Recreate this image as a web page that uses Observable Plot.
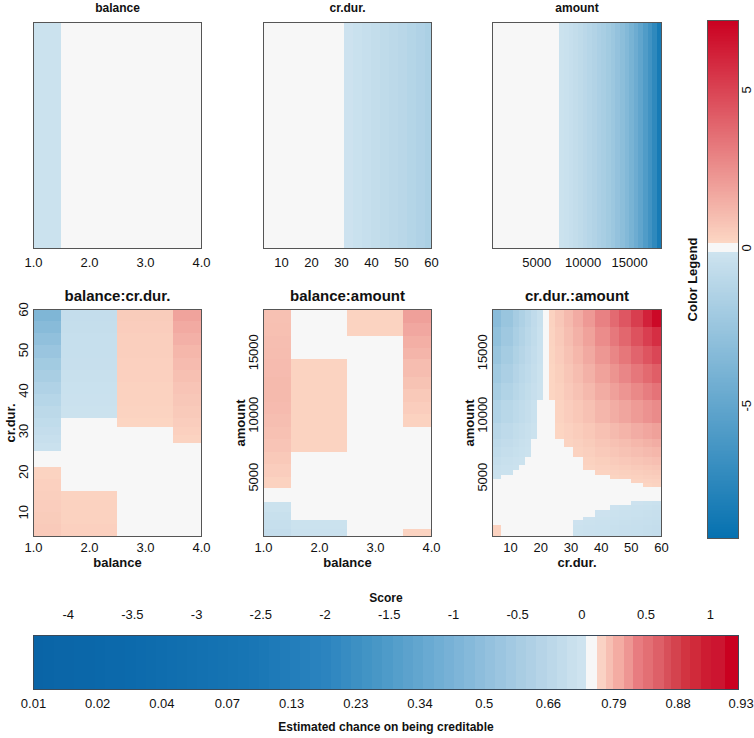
<!DOCTYPE html>
<html><head><meta charset="utf-8">
<script src="https://cdn.jsdelivr.net/npm/d3@7"></script>
<script src="https://cdn.jsdelivr.net/npm/@observablehq/plot@0.6"></script>
<style>
html,body{margin:0;padding:0;background:#fff;}
#chart{position:relative;width:754px;height:738px;overflow:hidden;font-family:"Liberation Sans",Arial,sans-serif;}
#chart > div{position:absolute;}
</style></head><body><div id="chart"></div>
<script>
// ---------------- DATA ----------------
// 1D effects
const balanceBreaks = [1, 1.5, 2.5, 3.5, 4];
const balanceEffect = [-0.25, 0, 0, 0];
const crdurBreaks = [4, 31, 34, 37, 40, 43, 46, 49, 52, 55, 58, 60];
const crdurEffect = [0, -0.2, -0.35, -0.5, -0.65, -0.8, -0.95, -1.1, -1.3, -1.5, -1.7];
const amountBreaks = [250, 7500, 8000, 8500, 9000, 9500, 10000, 10500, 11000, 11500, 12000, 12500, 13000, 13500, 14000, 14500, 15000, 15500, 16000, 16500, 17000, 17500, 18000, 18424];
const amountEffect = [0, -0.25, -0.35, -0.5, -0.65, -0.8, -1.0, -1.2, -1.4, -1.65, -1.85, -2.1, -2.4, -2.75, -3.1, -3.5, -4.0, -4.5, -5.1, -5.8, -6.5, -7.3, -8.4];

// balance:cr.dur. (rows = cr.dur. bands, columns = balance 1..4)
const bcRowBreaks = [4, 7, 10, 13, 15, 18, 21, 25, 27, 29, 31, 33, 36, 39, 42, 45, 48, 51, 54, 57, 60];
const bcValues = [
  [0.55, 0.35, 0, 0],
  [0.5, 0.3, 0, 0],
  [0.45, 0.3, 0, 0],
  [0.4, 0.25, 0, 0],
  [0.35, 0, 0, 0],
  [0.25, 0, 0, 0],
  [0, 0, 0, 0],
  [-0.3, 0, 0, 0],
  [-0.45, 0, 0, 0.25],
  [-0.6, 0, 0, 0.35],
  [-0.75, 0, 0.2, 0.45],
  [-0.95, -0.25, 0.25, 0.55],
  [-1.2, -0.3, 0.3, 0.65],
  [-1.5, -0.35, 0.3, 0.75],
  [-1.8, -0.4, 0.35, 0.9],
  [-2.1, -0.45, 0.35, 1.05],
  [-2.5, -0.5, 0.4, 1.2],
  [-2.9, -0.5, 0.4, 1.4],
  [-3.3, -0.55, 0.45, 1.6],
  [-3.7, -0.6, 0.5, 1.85]
];

// balance:amount (rows = amount bands, columns = balance 1..4)
const baRowBreaks = [250, 800, 1500, 2200, 3000, 4100, 5000, 6000, 7000, 8000, 9000, 10000, 11000, 12000, 13000, 14400, 15300, 16300, 17300, 18424];
const baValues = [
  [-0.6, -0.3, 0, 0.25],
  [-0.5, -0.25, 0, 0],
  [-0.4, 0, 0, 0],
  [-0.25, 0, 0, 0],
  [0, 0, 0, 0],
  [0.3, 0, 0, 0],
  [0.45, 0, 0, 0],
  [0.6, 0, 0, 0],
  [0.75, 0.25, 0, 0],
  [0.85, 0.25, 0, 0],
  [0.95, 0.25, 0, 0.3],
  [1.05, 0.25, 0, 0.45],
  [1.1, 0.25, 0, 0.6],
  [1.1, 0.25, 0, 0.8],
  [1.05, 0.25, 0, 1.0],
  [1.0, 0, 0, 1.25],
  [0.95, 0, 0, 1.45],
  [0.9, 0, 0.25, 1.7],
  [0.85, 0, 0.25, 1.95]
];

// cr.dur.:amount (rows = amount bands bottom->top, columns = cr.dur. bands)
const caColBreaks = [4, 7, 11, 13, 15, 17, 19, 21, 23, 25, 28, 31, 34, 38, 43, 46, 50, 54, 57, 60];
const caRowBreaks = [250, 1100, 1500, 1800, 2300, 2700, 3050, 3600, 4170, 4490, 4800, 5130, 5530, 5930, 6600, 7400, 8000, 9300, 11140, 12500, 14000, 15500, 17000, 18424];
const caValues = [
  [0.3, 0, 0, 0, 0, 0, 0, 0, 0, 0, 0, -0.25, -0.3, -0.35, -0.4, -0.45, -0.5, -0.55, -0.6],
  [0, 0, 0, 0, 0, 0, 0, 0, 0, 0, 0, -0.2, -0.25, -0.3, -0.35, -0.4, -0.45, -0.5, -0.55],
  [0, 0, 0, 0, 0, 0, 0, 0, 0, 0, 0, 0, -0.2, -0.25, -0.3, -0.35, -0.4, -0.45, -0.5],
  [0, 0, 0, 0, 0, 0, 0, 0, 0, 0, 0, 0, 0, -0.2, -0.25, -0.3, -0.35, -0.4, -0.45],
  [0, 0, 0, 0, 0, 0, 0, 0, 0, 0, 0, 0, 0, 0, -0.2, -0.25, -0.3, -0.35, -0.4],
  [0, 0, 0, 0, 0, 0, 0, 0, 0, 0, 0, 0, 0, 0, 0, 0, -0.2, -0.25, -0.3],
  [0, 0, 0, 0, 0, 0, 0, 0, 0, 0, 0, 0, 0, 0, 0, 0, 0, 0, 0],
  [0, 0, 0, 0, 0, 0, 0, 0, 0, 0, 0, 0, 0, 0, 0, 0, 0, 0, 0],
  [0, 0, 0, 0, 0, 0, 0, 0, 0, 0, 0, 0, 0, 0, 0, 0, 0, 0.2, 0.25],
  [0, 0, 0, 0, 0, 0, 0, 0, 0, 0, 0, 0, 0, 0, 0, 0, 0.25, 0.28, 0.32],
  [-0.25, 0, 0, 0, 0, 0, 0, 0, 0, 0, 0, 0, 0, 0, 0.24, 0.29, 0.34, 0.38, 0.42],
  [-0.31, -0.25, 0, 0, 0, 0, 0, 0, 0, 0, 0, 0, 0, 0.25, 0.32, 0.37, 0.44, 0.5, 0.55],
  [-0.41, -0.32, -0.25, 0, 0, 0, 0, 0, 0, 0, 0, 0, 0.23, 0.32, 0.4, 0.47, 0.56, 0.63, 0.7],
  [-0.53, -0.42, -0.32, -0.26, 0, 0, 0, 0, 0, 0, 0, 0, 0.3, 0.41, 0.51, 0.61, 0.72, 0.82, 0.91],
  [-0.71, -0.56, -0.43, -0.34, -0.26, 0, 0, 0, 0, 0, 0, 0.29, 0.4, 0.55, 0.69, 0.81, 0.96, 1.09, 1.2],
  [-0.87, -0.69, -0.53, -0.42, -0.32, 0, 0, 0, 0, 0, 0.25, 0.36, 0.5, 0.69, 0.85, 1.0, 1.19, 1.36, 1.5],
  [-1.09, -0.86, -0.66, -0.53, -0.4, -0.27, 0, 0, 0, 0.2, 0.32, 0.46, 0.63, 0.86, 1.09, 1.29, 1.53, 1.73, 1.92],
  [-1.46, -1.15, -0.89, -0.71, -0.53, -0.35, 0, 0, 0, 0.26, 0.45, 0.63, 0.87, 1.21, 1.51, 1.77, 2.1, 2.39, 2.64],
  [-1.84, -1.45, -1.11, -0.89, -0.67, -0.45, -0.22, 0, 0.2, 0.34, 0.58, 0.82, 1.13, 1.56, 1.94, 2.3, 2.71, 3.08, 3.41],
  [-2.17, -1.71, -1.32, -1.05, -0.79, -0.53, -0.26, 0, 0.2, 0.41, 0.7, 1.0, 1.37, 1.88, 2.35, 2.78, 3.28, 3.73, 4.12],
  [-2.53, -1.99, -1.53, -1.23, -0.92, -0.61, -0.31, 0, 0.24, 0.49, 0.82, 1.19, 1.63, 2.23, 2.79, 3.3, 3.9, 4.43, 4.89],
  [-2.88, -2.27, -1.75, -1.4, -1.05, -0.7, -0.35, 0, 0.27, 0.57, 0.96, 1.38, 1.89, 2.59, 3.25, 3.83, 4.52, 5.15, 5.69],
  [-3.22, -2.54, -1.95, -1.56, -1.17, -0.78, -0.39, 0, 0.31, 0.65, 1.09, 1.57, 2.16, 2.95, 3.7, 4.37, 5.16, 6.1, 6.9]
];

// axes / ticks
const balanceTicks = [1, 2, 3, 4];
const crdurTicks = [10, 20, 30, 40, 50, 60];
const amountTicks = [5000, 10000, 15000];
const legendRange = [-9.2, 7.2];
const legendTicks = [-5, 0, 5];
const scoreDomain = [-4.27, 1.22];
const scoreTicks = [-4, -3.5, -3, -2.5, -2, -1.5, -1, -0.5, 0, 0.5, 1];
const probTickScores = [-4.27, -3.77, -3.27, -2.76, -2.26, -1.76, -1.26, -0.76, -0.26, 0.25, 0.75, 1.24];
const probLabels = ["0.01", "0.02", "0.04", "0.07", "0.13", "0.23", "0.34", "0.5", "0.66", "0.79", "0.88", "0.93"];
const barGrayBand = [0.04, 0.12];
const barRedEdges = [0.12, 0.19, 0.25, 0.33, 0.40, 0.48, 0.56, 0.64, 0.70, 0.78, 0.85, 0.93, 1.01, 1.12, 1.22];

// ---------------- STYLE ----------------
const FONT = '"Liberation Sans", Arial, Helvetica, sans-serif';
const GRAY = "#f7f7f7";
const negRamp = d3.interpolateRgb("#d1e5f0", "#0571b0");
const posRamp = d3.interpolateRgb("#fddbc7", "#ca0020");
function scoreColor(v) {
  if (Math.abs(v) < 0.15) return GRAY;
  return v < 0 ? negRamp(Math.min(1, -v / 9.2)) : posRamp(Math.min(1, v / 7.2));
}
const barBlueStops = [-4.27, -3.5, -2.6, -2.0, -1.6, -1.25, -0.93, -0.62, -0.31, 0.04];
const barBlueColors = ["#0a64a6", "#0c6aac", "#1775b4", "#2b84bf", "#4797c6", "#64a7d0", "#80b6d8", "#9cc6e0", "#b6d4e7", "#d1e5f0"];
const barBlue = d3.scaleLinear().domain(barBlueStops).range(barBlueColors).interpolate(d3.interpolateRgb).clamp(true);
const barRedColors = ["#fad2c4", "#f7bfb3", "#f4aca3", "#ee9693", "#e87c80", "#e36f74", "#de6068", "#d8505a", "#d4434e", "#d23441", "#d02a3a", "#cd1c32", "#cc1530", "#ca0020"];
const T = {textAnchor: "middle", lineAnchor: "middle", fill: "#111"};

const chartEl = document.getElementById("chart");
function mount(svg, left, topPx) {
  const d = document.createElement("div");
  d.style.left = left + "px"; d.style.top = topPx + "px";
  d.appendChild(svg); chartEl.appendChild(d);
}

function cells1D(breaks, vals) {
  return vals.map((v, i) => ({x1: breaks[i], x2: breaks[i + 1], v}));
}
function cells2D(xBreaks, yBreaks, matrix) {
  const out = [];
  matrix.forEach((row, i) => row.forEach((v, j) => out.push({x1: xBreaks[j], x2: xBreaks[j + 1], y1: yBreaks[i], y2: yBreaks[i + 1], v})));
  return out;
}

function makePanel(o) {
  const mL = 40, mR = 10, mT = o.mT, mB = 40;
  const rectOpts = {x1: "x1", x2: "x2", fill: d => scoreColor(d.v), shapeRendering: "crispEdges"};
  if (o.yDomain) { rectOpts.y1 = "y1"; rectOpts.y2 = "y2"; }
  const marks = [
    Plot.rect(o.cells, rectOpts),
    Plot.frame({stroke: "#555", strokeWidth: 1}),
    Plot.text(o.xTicks, {...T, x: d => d, text: o.xFmt, frameAnchor: "bottom", dy: o.xTickDy, fontSize: 13}),
    Plot.text([o.title], {...T, frameAnchor: "top", dy: o.titleDy, fontSize: o.titleSize, fontWeight: "bold"})
  ];
  if (o.yTicks) {
    marks.push(Plot.text(o.yTicks, {...T, y: d => d, text: d => String(d), frameAnchor: "left", rotate: -90, dx: -10, fontSize: 13}));
    marks.push(Plot.text([o.yTitle], {...T, frameAnchor: "left", rotate: -90, dx: -23, fontSize: 13, fontWeight: "bold"}));
  }
  if (o.xTitle) marks.push(Plot.text([o.xTitle], {...T, frameAnchor: "bottom", dy: 26, fontSize: 13, fontWeight: "bold"}));
  const opts = {
    width: o.fw + mL + mR, height: o.fh + mT + mB,
    marginLeft: mL, marginRight: mR, marginTop: mT, marginBottom: mB,
    x: {domain: o.xDomain, axis: null},
    color: {type: "identity"},
    style: {background: "transparent", overflow: "visible", fontFamily: FONT},
    marks
  };
  if (o.yDomain) opts.y = {domain: o.yDomain, axis: null};
  mount(Plot.plot(opts), o.fx - mL, o.fy - mT);
}

const fmt1 = d3.format(".1f");
const str = d => String(d);
const topRow = {fy: 22, fh: 226, mT: 22, titleDy: -14, titleSize: 12, xTickDy: 14};
const botRow = {fy: 309, fh: 227, mT: 30, titleDy: -13, titleSize: 15, xTickDy: 11};

makePanel({...topRow, fx: 33, fw: 168, xDomain: [1, 4], cells: cells1D(balanceBreaks, balanceEffect), title: "balance", xTicks: balanceTicks, xFmt: fmt1});
makePanel({...topRow, fx: 263, fw: 168, xDomain: [4, 60], cells: cells1D(crdurBreaks, crdurEffect), title: "cr.dur.", xTicks: crdurTicks, xFmt: str});
makePanel({...topRow, fx: 492, fw: 169, xDomain: [250, 18424], cells: cells1D(amountBreaks, amountEffect), title: "amount", xTicks: amountTicks, xFmt: str});

makePanel({...botRow, fx: 33, fw: 168, xDomain: [1, 4], yDomain: [4, 60], cells: cells2D(balanceBreaks, bcRowBreaks, bcValues), title: "balance:cr.dur.", xTicks: balanceTicks, xFmt: fmt1, yTicks: crdurTicks, yTitle: "cr.dur.", xTitle: "balance"});
makePanel({...botRow, fx: 263, fw: 168, xDomain: [1, 4], yDomain: [250, 18424], cells: cells2D(balanceBreaks, baRowBreaks, baValues), title: "balance:amount", xTicks: balanceTicks, xFmt: fmt1, yTicks: amountTicks, yTitle: "amount", xTitle: "balance"});
makePanel({...botRow, fx: 492, fw: 169, xDomain: [4, 60], yDomain: [250, 18424], cells: cells2D(caColBreaks, caRowBreaks, caValues), title: "cr.dur.:amount", xTicks: crdurTicks, xFmt: str, yTicks: amountTicks, yTitle: "amount", xTitle: "cr.dur."});

// ---------------- Right colour legend ----------------
const legendCells = d3.range(legendRange[0], legendRange[1], 0.05).map(v => ({y1: v, y2: Math.min(v + 0.05, legendRange[1]), v: v + 0.025}));
mount(Plot.plot({
  width: 74, height: 560, marginLeft: 27, marginRight: 16, marginTop: 20, marginBottom: 22,
  y: {domain: legendRange, axis: null},
  color: {type: "identity"},
  style: {background: "transparent", overflow: "visible", fontFamily: FONT},
  marks: [
    Plot.rect(legendCells, {y1: "y1", y2: "y2", fill: d => scoreColor(d.v), shapeRendering: "crispEdges"}),
    Plot.frame({stroke: "#555"}),
    Plot.text(legendTicks, {...T, y: d => d, text: d => String(d), frameAnchor: "right", rotate: -90, dx: 8, fontSize: 13}),
    Plot.text(["Color Legend"], {...T, frameAnchor: "left", rotate: -90, dx: -15, fontSize: 13, fontWeight: "bold"})
  ]
}), 680, 0);

// ---------------- Bottom score bar ----------------
const barCells = [];
d3.range(scoreDomain[0], barGrayBand[0], 0.08).forEach(s => {
  const e = Math.min(s + 0.08, barGrayBand[0]);
  barCells.push({x1: s, x2: e, c: barBlue((s + e) / 2)});
});
barCells.push({x1: barGrayBand[0], x2: barGrayBand[1], c: GRAY});
barRedColors.forEach((c, i) => barCells.push({x1: barRedEdges[i], x2: barRedEdges[i + 1], c}));

mount(Plot.plot({
  width: 754, height: 158, marginLeft: 33, marginRight: 16, marginTop: 55, marginBottom: 49,
  x: {domain: scoreDomain, axis: null},
  color: {type: "identity"},
  style: {background: "transparent", overflow: "visible", fontFamily: FONT},
  marks: [
    Plot.rect(barCells, {x1: "x1", x2: "x2", fill: "c", shapeRendering: "crispEdges"}),
    Plot.frame({stroke: "#3a4a5a"}),
    Plot.text(scoreTicks, {...T, x: d => d, text: d => String(d), frameAnchor: "top", dy: -21, fontSize: 13}),
    Plot.text(["Score"], {...T, frameAnchor: "top", dy: -37, fontSize: 12, fontWeight: "bold"}),
    Plot.text(probTickScores, {...T, x: d => d, text: (d, i) => probLabels[i], frameAnchor: "bottom", dy: 14, fontSize: 13}),
    Plot.text(["Estimated chance on being creditable"], {...T, frameAnchor: "bottom", dy: 38, fontSize: 12, fontWeight: "bold"})
  ]
}), 0, 580);
</script></body></html>
